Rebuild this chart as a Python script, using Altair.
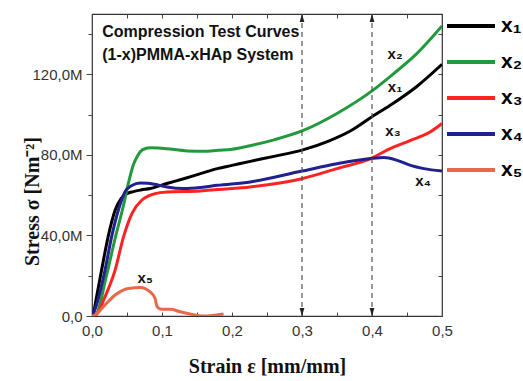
import altair as alt
import pandas as pd

# ---------------- data ----------------
series_names = ["x₁", "x₂", "x₃", "x₄", "x₅"]
series_colors = ["#000000", "#229a3c", "#ff2222", "#20208f", "#e8694a"]

x1_strain = [0, 0.002, 0.006, 0.0137, 0.023, 0.033, 0.042, 0.05, 0.059, 0.07, 0.083, 0.107, 0.131, 0.155, 0.179, 0.2, 0.226, 0.26, 0.3, 0.338, 0.369, 0.4, 0.431, 0.464, 0.5]
x1_stress = [0, 1.3, 8.5, 22.8, 39.3, 52.5, 58.5, 60.8, 61.8, 62.6, 63.3, 65.8, 68.2, 70.7, 73.2, 74.8, 76.8, 79.3, 82.4, 86.9, 91.9, 99.0, 105.8, 114.0, 125.0]

x2_strain = [0, 0.0066, 0.02, 0.033, 0.045, 0.052, 0.059, 0.065, 0.072, 0.083, 0.095, 0.107, 0.136, 0.16, 0.18, 0.2, 0.226, 0.26, 0.3, 0.35, 0.4, 0.431, 0.464, 0.5]
x2_stress = [0, 1.3, 19.0, 38.5, 55.0, 66.0, 75.0, 79.5, 82.5, 83.6, 83.5, 83.1, 82.0, 81.8, 82.3, 82.8, 84.6, 87.5, 91.9, 100.6, 111.8, 120.4, 130.3, 144.0]

x3_strain = [0, 0.0066, 0.0186, 0.033, 0.045, 0.057, 0.071, 0.08, 0.09, 0.107, 0.155, 0.179, 0.226, 0.3, 0.35, 0.398, 0.426, 0.455, 0.483, 0.5]
x3_stress = [0, 0.8, 9.6, 22.8, 39.3, 50.9, 57.5, 59.5, 60.8, 61.6, 62.1, 62.8, 64.1, 68.2, 73.2, 78.2, 83.1, 87.2, 91.4, 95.6]

x4_strain = [0, 0.005, 0.0186, 0.028, 0.0376, 0.047, 0.057, 0.069, 0.08, 0.095, 0.107, 0.131, 0.155, 0.179, 0.226, 0.3, 0.35, 0.398, 0.417, 0.436, 0.455, 0.474, 0.5]
x4_stress = [0, 4.0, 22.8, 39.3, 52.5, 61.6, 64.8, 66.0, 65.9, 65.0, 64.1, 63.3, 63.8, 64.9, 66.6, 72.0, 75.6, 78.2, 78.7, 77.3, 74.8, 73.2, 72.0]

x5_strain = [0, 0.004, 0.0186, 0.033, 0.052, 0.069, 0.083, 0.09, 0.093, 0.099, 0.112, 0.126, 0.14, 0.15, 0.165, 0.178, 0.188]
x5_stress = [0, 0.5, 5.5, 10.4, 13.7, 14.2, 12.0, 8.8, 4.6, 3.3, 3.3, 2.1, 1.0, 0.3, 0.0, 0.5, 1.0]

x_tick_values = [0, 0.05, 0.1, 0.15, 0.2, 0.25, 0.3, 0.35, 0.4, 0.45, 0.5]
y_tick_values = [0, 20, 40, 60, 80, 100, 120, 140]

marker_strain = [0.3, 0.4]

curve_label_text = ["x₂", "x₁", "x₃", "x₄", "x₅"]
curve_label_strain = [0.433, 0.433, 0.43, 0.473, 0.076]
curve_label_stress = [130.0, 113.5, 92.0, 67.0, 19.0]

title_lines = ["Compression Test Curves", "(1-x)PMMA-xHAp System"]
title_strain = [0.0147, 0.0147]
title_stress = [138.8, 127.4]

# ---------------- tables ----------------
rows = []
for name, xs, ys in zip(series_names,
                        [x1_strain, x2_strain, x3_strain, x4_strain, x5_strain],
                        [x1_stress, x2_stress, x3_stress, x4_stress, x5_stress]):
    for a, b in zip(xs, ys):
        rows.append({"series": name, "strain": a, "stress": b})
df = pd.DataFrame(rows)

markers = pd.DataFrame({"strain": marker_strain})
markers_top = pd.DataFrame({"strain": marker_strain, "stress": [150.0, 150.0]})
markers_bot = pd.DataFrame({"strain": marker_strain, "stress": [0.0, 0.0]})
labels_df = pd.DataFrame({"t": curve_label_text, "strain": curve_label_strain, "stress": curve_label_stress})
title_df = pd.DataFrame({"t": title_lines, "strain": title_strain, "stress": title_stress})

x_scale = alt.Scale(domain=[0, 0.5], nice=False, zero=False)
y_scale = alt.Scale(domain=[0, 150], nice=False, zero=False)
color_scale = alt.Scale(domain=series_names, range=series_colors)

LABEL_FONT = "Liberation Sans"
SERIF = "Liberation Serif"

x_label_expr = ("abs(round(datum.value*10) - datum.value*10) < 0.000001 ? "
                "replace(format(datum.value, '.1f'), '.', ',') : ''")
y_label_expr = ("datum.value == 0 ? '0,0' : (datum.value % 40 == 0 ? "
                "replace(format(datum.value, '.1f'), '.', ',') + 'M' : '')")

lines = alt.Chart(df).mark_line(strokeWidth=3, interpolate="monotone", clip=True).encode(
    x=alt.X("strain:Q", scale=x_scale, axis=alt.Axis(
        orient="bottom", values=x_tick_values, labelExpr=x_label_expr,
        tickSize=4, offset=-4, domain=False, labelPadding=7, labelFlush=False,
        labelFont=LABEL_FONT, labelFontSize=15, labelColor="#333",
        tickColor="#444", grid=False,
        title="Strain ε [mm/mm]", titleFont=SERIF, titleFontSize=20,
        titleFontWeight="bold", titleColor="#111",
        titleX=175, titleY=54, titleBaseline="middle", titleAlign="center")),
    y=alt.Y("stress:Q", scale=y_scale, axis=alt.Axis(
        orient="left", values=y_tick_values, labelExpr=y_label_expr,
        tickSize={"condition": {"test": "datum.value % 40 == 0", "value": 6}, "value": 4},
        domain=False, labelPadding=4, labelFlush=False,
        labelFont=LABEL_FONT, labelFontSize=15, labelColor="#333",
        tickColor="#444", grid=False,
        title="Stress σ [Nm⁻²]", titleFont=SERIF, titleFontSize=20,
        titleFontWeight="bold", titleColor="#111",
        titleX=-60, titleY=187, titleAngle=270,
        titleBaseline="middle", titleAlign="center")),
    color=alt.Color("series:N", scale=color_scale, legend=alt.Legend(
        orient="none", legendX=353, legendY=-14, title=None,
        symbolType="stroke", symbolSize=2304, symbolStrokeWidth=4,
        labelFont=LABEL_FONT, labelFontSize=21, labelFontWeight="bold",
        labelColor="#000", labelOffset=4, rowPadding=-10, padding=0)),
)

dashed = alt.Chart(markers).mark_rule(strokeDash=[5, 4], color="#555", strokeWidth=1.2).encode(
    x=alt.X("strain:Q", scale=x_scale, axis=alt.Axis(
        orient="top", values=x_tick_values, labels=False, tickSize=4,
        offset=-4, domain=False, title=None, grid=False, tickColor="#444")),
)

arrow_up = alt.Chart(markers_top).mark_point(
    shape="M-0.6,2 L0,0 L0.6,2 Z", filled=True, size=64, color="#222", opacity=1
).encode(
    x=alt.X("strain:Q", scale=x_scale, axis=None),
    y=alt.Y("stress:Q", scale=y_scale, axis=alt.Axis(
        orient="right", values=y_tick_values, labels=False, tickSize=4,
        offset=-4, domain=False, title=None, grid=False, tickColor="#444")),
)

arrow_down = alt.Chart(markers_bot).mark_point(
    shape="M-0.6,-2 L0,0 L0.6,-2 Z", filled=True, size=64, color="#222", opacity=1
).encode(
    x=alt.X("strain:Q", scale=x_scale, axis=None),
    y=alt.Y("stress:Q", scale=y_scale, axis=None),
)

curve_labels = alt.Chart(labels_df).mark_text(
    font=LABEL_FONT, fontSize=15, fontWeight="bold", color="#111", align="center", baseline="middle"
).encode(
    x=alt.X("strain:Q", scale=x_scale, axis=None),
    y=alt.Y("stress:Q", scale=y_scale, axis=None),
    text="t:N",
)

title_text = alt.Chart(title_df).mark_text(
    font=LABEL_FONT, fontSize=16, fontWeight="bold", color="#111", align="left", baseline="alphabetic"
).encode(
    x=alt.X("strain:Q", scale=x_scale, axis=None),
    y=alt.Y("stress:Q", scale=y_scale, axis=None),
    text="t:N",
)

chart = alt.layer(lines, dashed, arrow_up, arrow_down, curve_labels, title_text).properties(
    width=350, height=302,
    autosize=alt.AutoSizeParams(type="none"),
    padding={"left": 92, "top": 14, "right": 81, "bottom": 65},
    background="white",
).configure_view(stroke="#333", strokeWidth=1.2)

chart.save("out.html", embed_options={"renderer": "svg", "actions": False})
